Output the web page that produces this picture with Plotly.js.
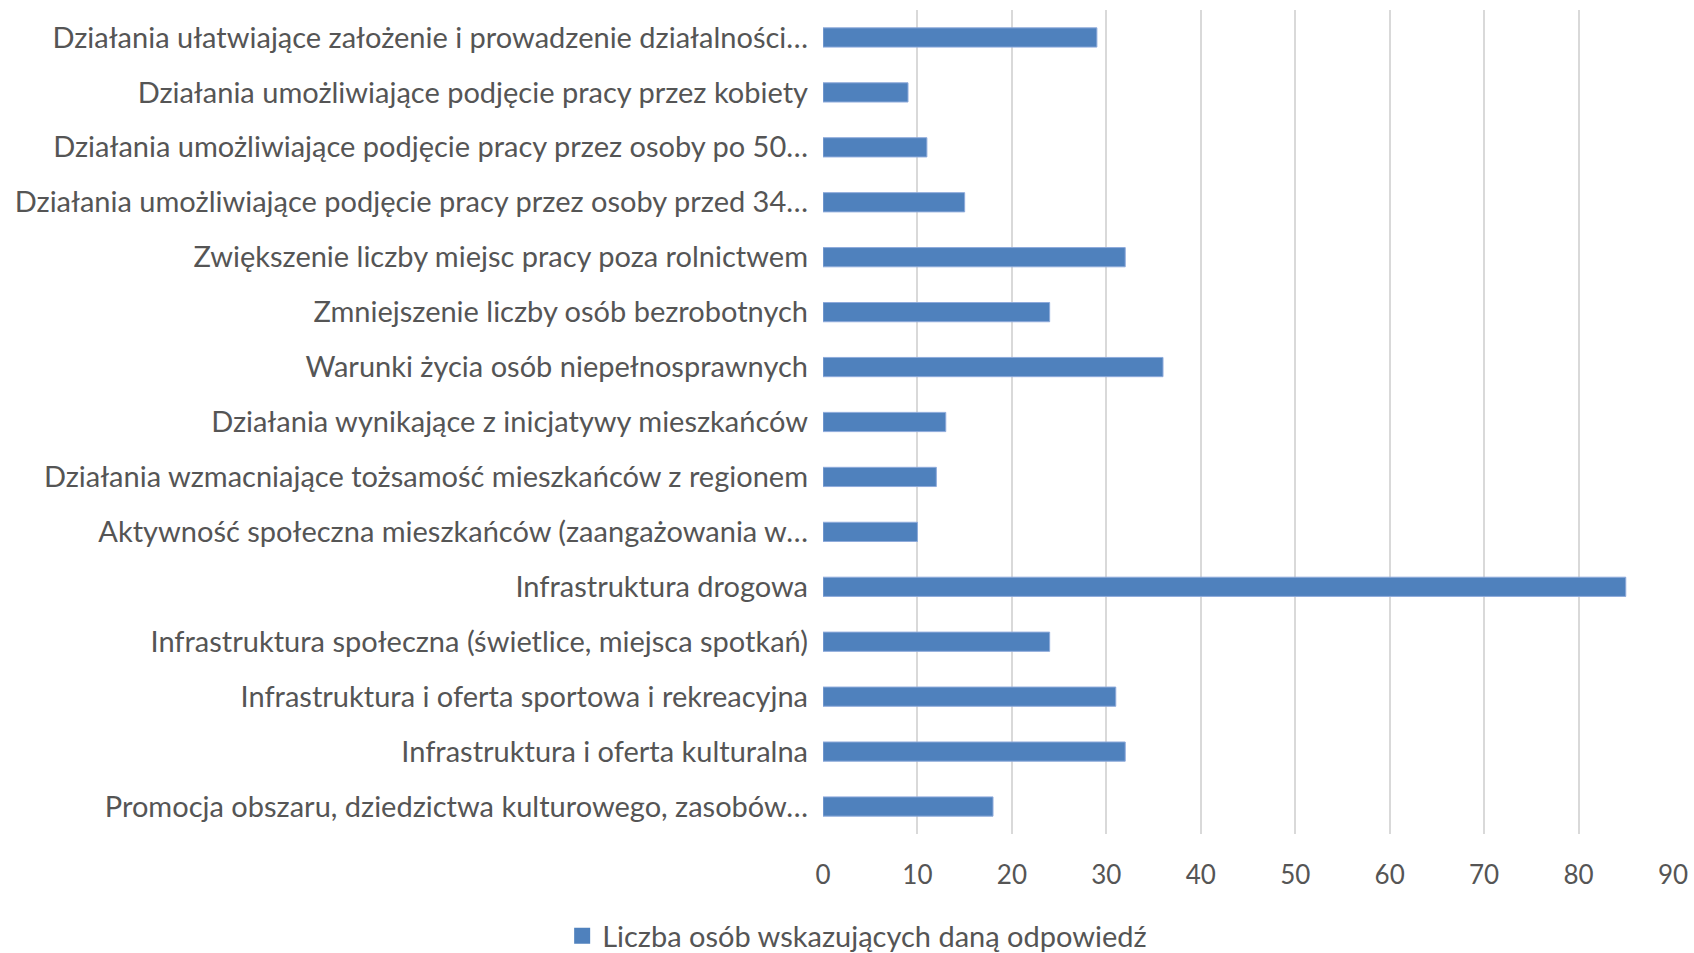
<!DOCTYPE html>
<html>
<head>
<meta charset="utf-8">
<script src="https://cdn.plot.ly/plotly-3.0.1.min.js"></script>
<style>html,body{margin:0;padding:0;background:#fff;}#chart{width:1694px;height:953px;}</style>
</head>
<body>
<div id="chart"></div>
<script>
const categories = [
  "Działania ułatwiające założenie i prowadzenie działalności…",
  "Działania umożliwiające podjęcie pracy przez kobiety",
  "Działania umożliwiające podjęcie pracy przez osoby po 50…",
  "Działania umożliwiające podjęcie pracy przez osoby przed 34…",
  "Zwiększenie liczby miejsc pracy poza rolnictwem",
  "Zmniejszenie liczby osób bezrobotnych",
  "Warunki życia osób niepełnosprawnych",
  "Działania wynikające z inicjatywy mieszkańców",
  "Działania wzmacniające tożsamość mieszkańców z regionem",
  "Aktywność społeczna mieszkańców (zaangażowania w…",
  "Infrastruktura drogowa",
  "Infrastruktura społeczna (świetlice, miejsca spotkań)",
  "Infrastruktura i oferta sportowa i rekreacyjna",
  "Infrastruktura i oferta kulturalna",
  "Promocja obszaru, dziedzictwa kulturowego, zasobów…"
];
const values = [29, 9, 11, 15, 32, 24, 36, 13, 12, 10, 85, 24, 31, 32, 18];
const seriesName = "Liczba osób wskazujących daną odpowiedź";
const xTicks = [0, 10, 20, 30, 40, 50, 60, 70, 80, 90];

const FONT = "Lato, 'Open Sans', sans-serif";
const TXT = "#555555";
const BAR = "#4F81BD";

const barTrace = {
  type: "bar",
  orientation: "h",
  x: values,
  y: categories,
  name: seriesName,
  showlegend: false,
  marker: { color: BAR, line: { color: "#8EAADB", width: 1 } },
  hoverinfo: "x+y"
};

// legend-only entry with a larger square symbol
const legendTrace = {
  type: "scatter",
  mode: "markers",
  x: [null],
  y: [null],
  name: seriesName,
  showlegend: true,
  marker: { symbol: "square", size: 16, color: BAR },
  hoverinfo: "skip"
};

const layout = {
  width: 1694,
  height: 953,
  paper_bgcolor: "#ffffff",
  plot_bgcolor: "#ffffff",
  margin: { l: 823, r: 21, t: 10, b: 119 },
  bargap: 0.65,
  font: { family: FONT, color: TXT, size: 29 },
  xaxis: {
    range: [0, 90],
    tickvals: xTicks,
    ticktext: xTicks.map(String),
    showgrid: true,
    gridcolor: "#D9D9D9",
    gridwidth: 2,
    zeroline: false,
    showline: false,
    ticks: "",
    ticklabelstandoff: 23,
    tickfont: { family: FONT, size: 26, color: TXT },
    fixedrange: true
  },
  yaxis: {
    autorange: "reversed",
    type: "category",
    categoryorder: "array",
    categoryarray: categories,
    showgrid: false,
    zeroline: false,
    showline: false,
    ticks: "",
    ticklabelstandoff: 14,
    tickfont: { family: FONT, size: 29, color: TXT },
    fixedrange: true
  },
  legend: {
    orientation: "h",
    xref: "container",
    yref: "container",
    x: 0.506,
    xanchor: "center",
    y: 0.018,
    yanchor: "middle",
    font: { family: FONT, size: 29, color: TXT },
    itemwidth: 30
  }
};

Plotly.newPlot("chart", [barTrace, legendTrace], layout, { displayModeBar: false, staticPlot: true });
</script>
</body>
</html>
